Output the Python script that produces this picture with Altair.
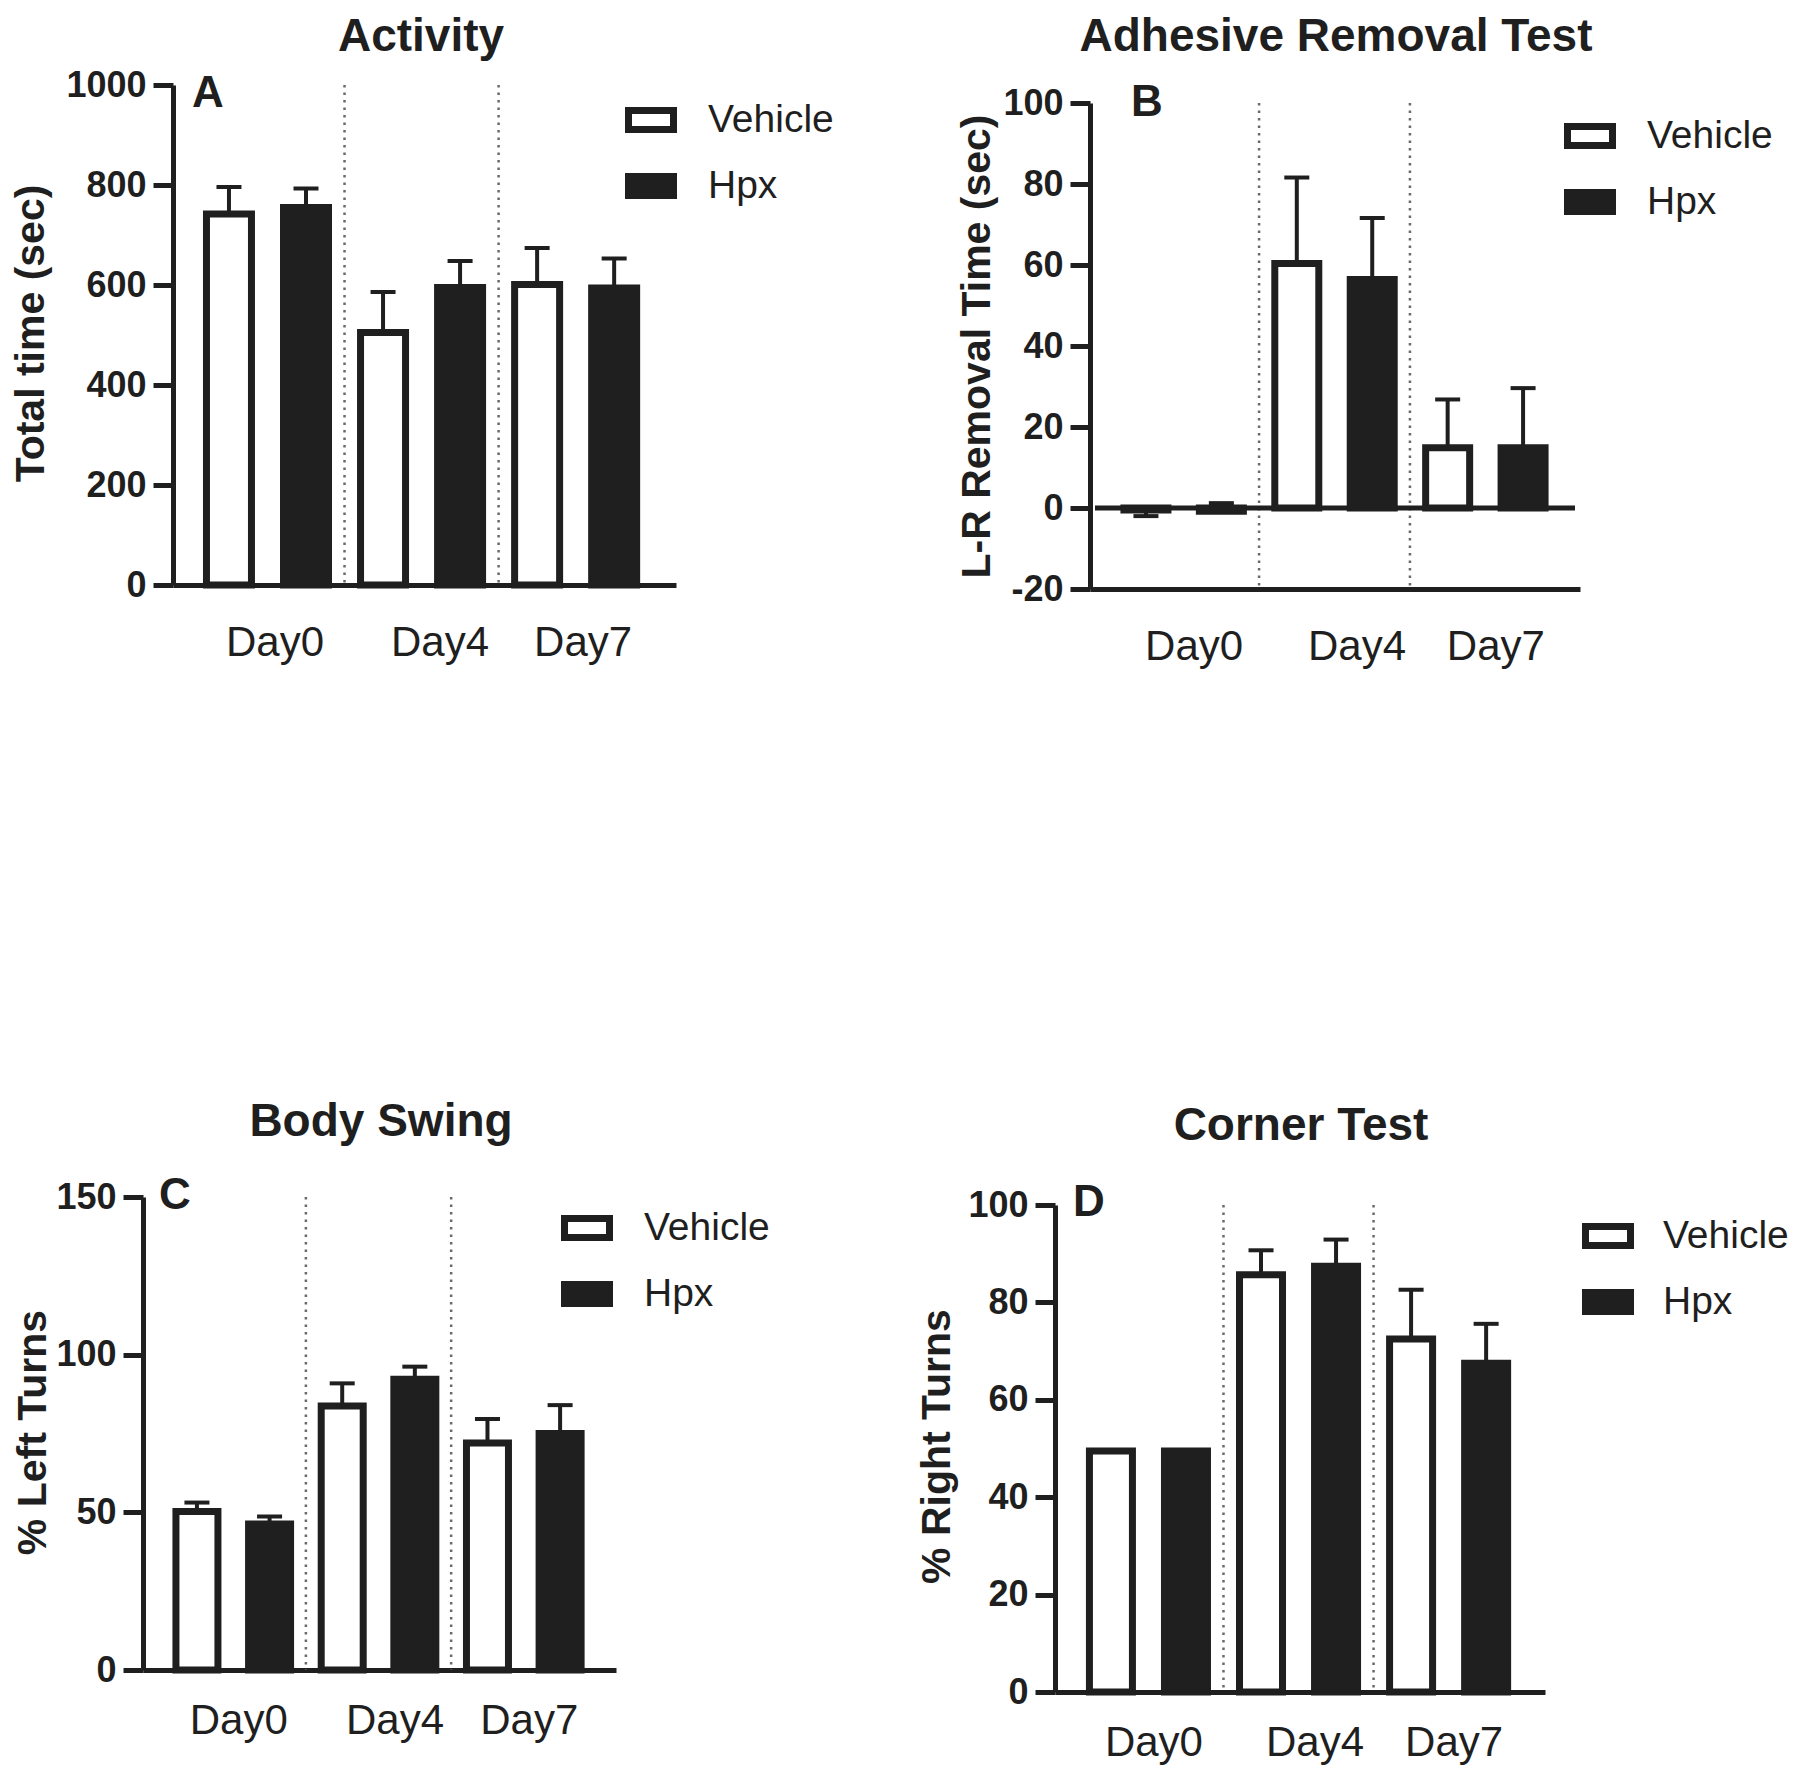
import json
import altair as alt
import pandas as pd

# ---------------- data ----------------
days = ["Day0", "Day4", "Day7"]
groups = ["Vehicle", "Hpx"]

# Panel A - Activity
a_title = "Activity"
a_ytitle = "Total time (sec)"
a_letter = "A"
a_ticks = [0, 200, 400, 600, 800, 1000]
a_vehicle = [742, 505, 601]
a_vehicle_err = [796, 586, 674]
a_hpx = [755, 595, 594]
a_hpx_err = [793, 648, 653]

# Panel B - Adhesive Removal Test
b_title = "Adhesive Removal Test"
b_ytitle = "L-R Removal Time (sec)"
b_letter = "B"
b_ticks = [-20, 0, 20, 40, 60, 80, 100]
b_vehicle = [-0.5, 60.4, 14.9]
b_vehicle_err = [-2.0, 81.6, 26.8]
b_hpx = [-0.8, 56.4, 14.9]
b_hpx_err = [1.2, 71.6, 29.6]

# Panel C - Body Swing
c_title = "Body Swing"
c_ytitle = "% Left Turns"
c_letter = "C"
c_ticks = [0, 50, 100, 150]
c_vehicle = [50.3, 83.7, 72.0]
c_vehicle_err = [53.1, 90.9, 79.6]
c_hpx = [46.3, 92.2, 75.0]
c_hpx_err = [48.7, 96.2, 84.0]

# Panel D - Corner Test
d_title = "Corner Test"
d_ytitle = "% Right Turns"
d_letter = "D"
d_ticks = [0, 20, 40, 60, 80, 100]
d_vehicle = [49.5, 85.7, 72.5]
d_vehicle_err = [None, 90.7, 82.6]
d_hpx = [49.5, 87.4, 67.5]
d_hpx_err = [None, 92.9, 75.6]

# ---------------- layout (page pixels) ----------------
W, H, M = 1784, 1757, 8
INK = "#1f1f1f"
FONT = "Liberation Sans"

LAY = {
    "A": dict(yax=173, xr=676, b0=225, step=78.6, ytop=85, ybot=585, size=45,
              tx=421, ty=51, lx=192, ly=107, gx=625, gy=120 - 26, loff=31, ytx=43, tyc=333,
              lpad=37, off_mid=18, off_side=7),
    "B": dict(yax=1090, xr=1580, b0=1142, step=77.0, ytop=103, ybot=589, size=44,
              tx=1336, ty=51, lx=1131, ly=116, gx=1564, gy=136 - 26, loff=31, ytx=989, tyc=346,
              lpad=37, off_mid=22, off_side=10),
    "C": dict(yax=143, xr=616, b0=193, step=74.2, ytop=1197, ybot=1670, size=42,
              tx=381, ty=1136, lx=159, ly=1209, gx=561, gy=1228 - 26, loff=31, ytx=45, tyc=1432,
              lpad=30, off_mid=16, off_side=5),
    "D": dict(yax=1055, xr=1545, b0=1107, step=76.6, ytop=1205, ybot=1692, size=43,
              tx=1301, ty=1140, lx=1073, ly=1216, gx=1582, gy=1236 - 26, loff=29, ytx=949, tyc=1446,
              lpad=30, off_mid=16, off_side=5),
}


def make_panel(key, title, ytitle, letter, ticks, veh, veh_err, hpx, hpx_err):
    L = LAY[key]
    rows = []
    for d, day in enumerate(days):
        for g, (vals, errs) in enumerate(((veh, veh_err), (hpx, hpx_err))):
            rows.append({"day": day, "group": groups[g], "idx": 2 * d + g,
                         "value": vals[d], "err": errs[d]})
    df = pd.DataFrame(rows)
    seps = pd.DataFrame({"pos": [2 * d + 1.5 for d in range(len(days) - 1)]})
    centers = [2 * d + 0.5 for d in range(len(days))]

    x0 = (L["yax"] - L["b0"]) / L["step"]
    x1 = (L["xr"] - L["b0"]) / L["step"]
    xs = alt.Scale(domain=[x0, x1], range=[L["yax"] - M, L["xr"] - M], nice=False, zero=False)
    ys = alt.Scale(domain=[ticks[0], ticks[-1]], range=[L["ybot"] - M, L["ytop"] - M],
                   nice=False, zero=False)

    xa = alt.Axis(orient="bottom", offset=(L["ybot"] - M) - H, values=centers,
                  labelExpr=f"{json.dumps(days)}[floor(datum.value / 2)]",
                  ticks=False, tickSize=0, grid=False, domain=True, domainWidth=5,
                  domainColor=INK, labelFont=FONT, labelFontSize=42, labelColor=INK,
                  labelPadding=L["lpad"],
                  labelOffset={"condition": {"test": "datum.value > 2 && datum.value < 3",
                                             "value": L["off_mid"]},
                               "value": L["off_side"]},
                  labelFlush=False, labelOverlap=False, title=None)
    ya = alt.Axis(orient="left", offset=-(L["yax"] - M), values=ticks,
                  labelExpr="'' + datum.value", grid=False, domain=True, domainWidth=5,
                  domainColor=INK, ticks=True, tickSize=20, tickWidth=5, tickColor=INK,
                  labelFont=FONT, labelFontWeight="bold", labelFontSize=36, labelColor=INK,
                  labelPadding=7, labelOverlap=False, labelFlush=False,
                  title=ytitle, titleFont=FONT, titleFontWeight="bold", titleFontSize=41,
                  titleColor=INK, titleAngle=270, titleAlign="center",
                  titleBaseline="alphabetic", titleX=L["ytx"] - L["yax"], titleY=L["tyc"] - M)

    X = alt.X("idx:Q", scale=xs, axis=xa)

    sep = alt.Chart(seps).mark_rule(color="#6a6a6a", strokeWidth=2.5, strokeDash=[2.5, 5]).encode(
        x=alt.X("pos:Q", scale=xs, axis=xa),
        y=alt.YDatum(ticks[-1], scale=ys, axis=ya),
        y2=alt.Y2Datum(ticks[0]),
    )
    layers = [sep]

    if ticks[0] < 0:
        zl = alt.Chart(pd.DataFrame({"z": [0]})).mark_rule(color=INK, strokeWidth=5).encode(
            x=alt.XDatum(x0, scale=xs, axis=xa),
            x2=alt.X2Datum(x1),
            y=alt.Y("z:Q", scale=ys, axis=ya),
        )
        layers.append(zl)

    base_err = alt.Chart(df).transform_filter("isValid(datum.err)")
    err = base_err.mark_rule(color=INK, strokeWidth=4).encode(
        x=X, y=alt.Y("value:Q", scale=ys, axis=ya), y2="err:Q")
    caps = base_err.mark_tick(orient="horizontal", size=25, thickness=4, color=INK, opacity=1).encode(
        x=X, y=alt.Y("err:Q", scale=ys, axis=ya))
    layers += [err, caps]

    bars = alt.Chart(df).mark_bar(orient="vertical", size=L["size"], stroke=INK, strokeWidth=7,
                                  strokeJoin="miter", opacity=1).encode(
        x=X,
        y=alt.Y("value:Q", scale=ys, axis=ya),
        y2=alt.Y2Datum(0),
        fill=alt.Fill("group:N", scale=alt.Scale(domain=groups, range=["#ffffff", INK]),
                      legend=alt.Legend(orient="none", legendX=L["gx"] - M, legendY=L["gy"] - M,
                                        title=None, padding=0,
                                        symbolType="M-1,-0.42H1V0.42H-1Z", symbolSize=2025,
                                        symbolStrokeColor=INK, symbolStrokeWidth=7,
                                        symbolOpacity=1,
                                        labelFont=FONT, labelFontSize=39, labelColor=INK,
                                        labelOffset=L["loff"], rowPadding=16, labelLimit=0)),
    )
    layers.append(bars)

    ttl = alt.Chart(pd.DataFrame({"t": [title]})).mark_text(
        font=FONT, fontWeight="bold", fontSize=46, color=INK, align="center",
        baseline="alphabetic").encode(
        x=alt.value(L["tx"] - M), y=alt.value(L["ty"] - M), text="t:N")
    let = alt.Chart(pd.DataFrame({"t": [letter]})).mark_text(
        font=FONT, fontWeight="bold", fontSize=44, color=INK, align="left",
        baseline="alphabetic").encode(
        x=alt.value(L["lx"] - M), y=alt.value(L["ly"] - M), text="t:N")
    layers += [ttl, let]

    return alt.layer(*layers)


pA = make_panel("A", a_title, a_ytitle, a_letter, a_ticks, a_vehicle, a_vehicle_err, a_hpx, a_hpx_err)
pB = make_panel("B", b_title, b_ytitle, b_letter, b_ticks, b_vehicle, b_vehicle_err, b_hpx, b_hpx_err)
pC = make_panel("C", c_title, c_ytitle, c_letter, c_ticks, c_vehicle, c_vehicle_err, c_hpx, c_hpx_err)
pD = make_panel("D", d_title, d_ytitle, d_letter, d_ticks, d_vehicle, d_vehicle_err, d_hpx, d_hpx_err)

chart = (
    alt.layer(pA, pB, pC, pD)
    .resolve_scale(x="independent", y="independent", fill="independent")
    .resolve_axis(x="independent", y="independent")
    .resolve_legend(fill="independent")
    .properties(width=W, height=H, padding=0, background="white",
                autosize=alt.AutoSizeParams(type="none"))
    .configure_view(strokeWidth=0)
)

chart.save("out.html", embed_options={"renderer": "svg", "actions": False})
